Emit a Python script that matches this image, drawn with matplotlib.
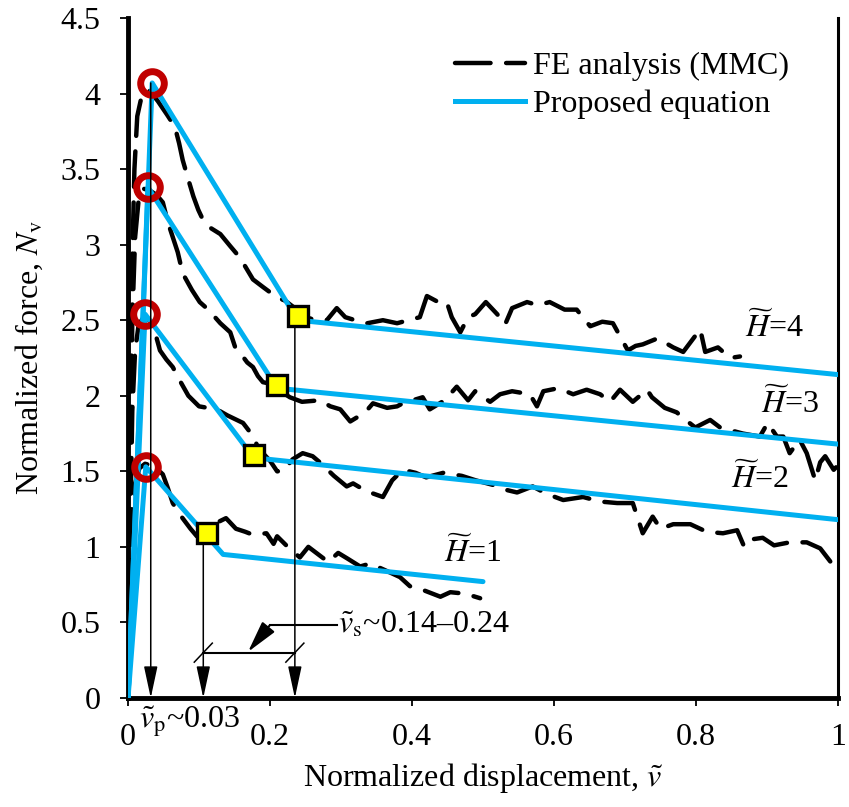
import matplotlib
matplotlib.use("Agg")
import matplotlib.pyplot as plt
from matplotlib.lines import Line2D

plt.rcParams['font.family'] = ['Liberation Serif', 'DejaVu Serif']
plt.rcParams['mathtext.fontset'] = 'stix'

# FE analysis (MMC) curves
fe1_x = [0, 0.003, 0.006, 0.01, 0.016, 0.024, 0.032, 0.04, 0.049, 0.056, 0.063, 0.072, 0.08, 0.088,
         0.097, 0.108, 0.125, 0.138, 0.152, 0.165, 0.176, 0.195, 0.205, 0.21, 0.225, 0.242, 0.254,
         0.268, 0.282, 0.296, 0.31, 0.327, 0.341, 0.36, 0.383, 0.397, 0.418, 0.44, 0.454, 0.475, 0.496]
fe1_y = [0, 0.7, 1.15, 1.42, 1.52, 1.55, 1.54, 1.52, 1.48, 1.39, 1.29, 1.22, 1.17, 1.12,
         1.07, 1.1, 1.16, 1.19, 1.12, 1.1, 1.08, 1.09, 1.02, 1.07, 1.0, 0.93, 1.0,
         0.95, 0.9, 0.96, 0.92, 0.87, 0.89, 0.85, 0.8, 0.74, 0.71, 0.67, 0.7, 0.69, 0.66]

fe2_x = [0, 0.003, 0.006, 0.01, 0.015, 0.022, 0.03, 0.038, 0.045, 0.054, 0.063, 0.073, 0.085, 0.1,
         0.112, 0.125, 0.14, 0.162, 0.175, 0.183, 0.19, 0.2, 0.21, 0.218, 0.232, 0.246, 0.26, 0.27,
         0.29, 0.308, 0.317, 0.335, 0.359, 0.372, 0.387, 0.405, 0.42, 0.444, 0.47, 0.49, 0.514,
         0.53, 0.548, 0.57, 0.59, 0.613, 0.641, 0.665, 0.689, 0.711, 0.725, 0.739, 0.75, 0.768,
         0.792, 0.815, 0.838, 0.858, 0.868, 0.879, 0.894, 0.91, 0.932, 0.956, 0.975, 0.993]
fe2_y = [0, 1.1, 1.9, 2.3, 2.47, 2.52, 2.5, 2.42, 2.3, 2.24, 2.19, 2.1, 2.0, 1.93,
         1.92, 1.91, 1.87, 1.82, 1.74, 1.66, 1.62, 1.57, 1.5, 1.5, 1.58, 1.62, 1.6, 1.56,
         1.47, 1.4, 1.42, 1.37, 1.33, 1.44, 1.51, 1.49, 1.46, 1.49, 1.47, 1.44, 1.41,
         1.38, 1.36, 1.4, 1.35, 1.31, 1.33, 1.3, 1.29, 1.29, 1.09, 1.2, 1.12, 1.15,
         1.15, 1.1, 1.09, 1.11, 1.0, 1.05, 1.06, 1.01, 1.03, 1.03, 0.99, 0.88]

fe3_x = [0, 0.003, 0.006, 0.01, 0.015, 0.022, 0.03, 0.04, 0.049, 0.056, 0.063, 0.07, 0.077, 0.09,
         0.101, 0.113, 0.13, 0.144, 0.151, 0.16, 0.168, 0.176, 0.183, 0.19, 0.2, 0.215, 0.228,
         0.245, 0.27, 0.285, 0.299, 0.313, 0.334, 0.345, 0.365, 0.379, 0.387, 0.415, 0.425, 0.446,
         0.463, 0.479, 0.489, 0.51, 0.524, 0.541, 0.566, 0.576, 0.585, 0.606, 0.627, 0.646, 0.665,
         0.679, 0.693, 0.711, 0.731, 0.738, 0.756, 0.773, 0.78, 0.799, 0.82, 0.834, 0.866, 0.89,
         0.901, 0.914, 0.923, 0.932, 0.946, 0.956, 0.968, 0.975, 0.982, 0.994, 1.0]
fe3_y = [0, 1.4, 2.5, 3.05, 3.3, 3.37, 3.36, 3.33, 3.28, 3.15, 3.05, 2.95, 2.81, 2.7,
         2.62, 2.57, 2.48, 2.42, 2.32, 2.27, 2.22, 2.19, 2.13, 2.09, 2.08, 2.03, 1.99,
         1.96, 1.97, 1.93, 1.91, 1.83, 1.89, 1.95, 1.92, 1.93, 1.95, 1.99, 1.91, 1.97,
         2.06, 1.97, 2.03, 1.96, 2.01, 2.03, 2.01, 1.93, 2.03, 2.05, 2.01, 2.04, 2.01,
         1.96, 2.04, 1.96, 2.04, 1.99, 1.92, 1.89, 1.86, 1.79, 1.84, 1.79, 1.75, 1.73,
         1.82, 1.73, 1.73, 1.62, 1.71, 1.62, 1.44, 1.56, 1.6, 1.51, 1.54]

fe4_x = [0, 0.003, 0.006, 0.009, 0.013, 0.02, 0.03, 0.042, 0.055, 0.066, 0.072, 0.077, 0.085, 0.092,
         0.099, 0.106, 0.113, 0.13, 0.144, 0.153, 0.162, 0.176, 0.19, 0.21, 0.221, 0.235, 0.25,
         0.265, 0.28, 0.294, 0.306, 0.32, 0.337, 0.359, 0.379, 0.395, 0.411, 0.421, 0.437, 0.449,
         0.456, 0.468, 0.479, 0.489, 0.504, 0.52, 0.531, 0.541, 0.562, 0.577, 0.594, 0.615, 0.632,
         0.651, 0.668, 0.683, 0.704, 0.715, 0.725, 0.746, 0.768, 0.782, 0.806, 0.813, 0.831, 0.848,
         0.862]
fe4_y = [0, 1.6, 2.9, 3.5, 3.85, 4.0, 4.02, 3.95, 3.86, 3.78, 3.67, 3.56, 3.43, 3.32,
         3.23, 3.16, 3.12, 3.07, 2.99, 2.94, 2.88, 2.77, 2.72, 2.65, 2.63, 2.58, 2.52,
         2.5, 2.5, 2.58, 2.52, 2.5, 2.48, 2.5, 2.48, 2.5, 2.52, 2.66, 2.62, 2.62,
         2.52, 2.42, 2.52, 2.54, 2.62, 2.54, 2.47, 2.58, 2.62, 2.6, 2.62, 2.57, 2.57,
         2.46, 2.49, 2.48, 2.3, 2.33, 2.34, 2.38, 2.32, 2.29, 2.44, 2.29, 2.32, 2.25,
         2.26]

# proposed equation: origin -> peak -> end of softening -> residual
eq1_x = [0, 0.025, 0.134, 0.50]
eq1_y = [0, 1.53, 0.95, 0.77]
eq2_x = [0, 0.024, 0.177, 1.0]
eq2_y = [0, 2.54, 1.59, 1.18]
eq3_x = [0, 0.028, 0.21, 1.0]
eq3_y = [0, 3.38, 2.05, 1.68]
eq4_x = [0, 0.034, 0.239, 1.0]
eq4_y = [0, 4.07, 2.50, 2.14]

peak_x = [0.025, 0.024, 0.028, 0.034]
peak_y = [1.53, 2.54, 3.38, 4.07]
soft_x = [0.111, 0.177, 0.21, 0.239]
soft_y = [1.09, 1.61, 2.07, 2.53]

h_names = ['1', '2', '3', '4']
h_lab_x = [0.485, 0.89, 0.932, 0.91]
h_lab_y = [0.90, 1.39, 1.887, 2.39]

xticks = [0, 0.2, 0.4, 0.6, 0.8, 1]
xtick_labels = ['0', '0.2', '0.4', '0.6', '0.8', '1']
yticks = [0, 0.5, 1, 1.5, 2, 2.5, 3, 3.5, 4, 4.5]
ytick_labels = ['0', '0.5', '1', '1.5', '2', '2.5', '3', '3.5', '4', '4.5']

vp = 0.032          # peak displacement arrow
vs_lo, vs_hi = 0.106, 0.235
dim_y = 0.3

blue = '#00B0F0'
fs = 23

fig = plt.figure(figsize=(8.49, 8.07), dpi=100)
ax = fig.add_axes([0.1508, 0.1351, 0.8362, 0.8426])

dash = (0, (8, 3.5))
for fx, fy in [(fe1_x, fe1_y), (fe2_x, fe2_y), (fe3_x, fe3_y), (fe4_x, fe4_y)]:
    ax.plot(fx, fy, color='black', lw=3.2, ls=dash, dash_capstyle='round', zorder=2)

for ex, ey in [(eq1_x, eq1_y), (eq2_x, eq2_y), (eq3_x, eq3_y), (eq4_x, eq4_y)]:
    ax.plot(ex, ey, color=blue, lw=3.6, solid_joinstyle='round', solid_capstyle='round', zorder=3)

ax.plot(peak_x, peak_y, ls='none', marker='o', ms=17, mfc='none', mec='#C00000', mew=5, zorder=5)
ax.plot(soft_x, soft_y, ls='none', marker='s', ms=15, mfc='#FFFF00', mec='black', mew=2.4, zorder=5)

# vertical arrows
arr = dict(arrowstyle='-|>,head_length=1.4,head_width=0.3', color='black', lw=1.1,
           shrinkA=0, shrinkB=0, mutation_scale=14)
ax.annotate('', xy=(vp, 0), xytext=(vp, peak_y[3]), arrowprops=arr, zorder=6)
ax.annotate('', xy=(vs_lo, 0), xytext=(vs_lo, soft_y[0]), arrowprops=arr, zorder=4)
ax.annotate('', xy=(vs_hi, 0), xytext=(vs_hi, soft_y[3]), arrowprops=arr, zorder=4)

# dimension line with slashes
ax.plot([vs_lo, vs_hi], [dim_y, dim_y], color='black', lw=1.5, zorder=4)
for xv in [vs_lo, vs_hi]:
    ax.plot([xv - 0.0127, xv + 0.0127], [dim_y - 0.063, dim_y + 0.063], color='black', lw=1.1, zorder=4)

# leader to the text
ax.plot([0.294, 0.2], [0.483, 0.483], color='black', lw=1.5, zorder=4)
ax.annotate('', xy=(0.169, 0.305), xytext=(0.2, 0.483),
            arrowprops=dict(arrowstyle='-|>,head_length=1.4,head_width=0.35', color='black', lw=1.5,
                            shrinkA=0, shrinkB=0, mutation_scale=14), zorder=4)
ax.text(0.296, 0.483, r'$\tilde{v}_\mathrm{s}$~0.14–0.24', fontsize=fs, ha='left', va='center')
ax.text(0.015, -0.2, r'$\tilde{v}_\mathrm{p}$~0.03', fontsize=fs, ha='left', va='baseline')

for name, tx, ty in zip(h_names, h_lab_x, h_lab_y):
    ax.text(tx, ty, r'$\widetilde{H}$=' + name, fontsize=fs, ha='center', va='baseline')

ax.set_xlim(0, 1)
ax.set_ylim(0, 4.5)
ax.set_xticks(xticks)
ax.set_xticklabels(xtick_labels)
ax.set_yticks(yticks)
ax.set_yticklabels(ytick_labels)
ax.tick_params(direction='out', length=6, width=1.3, labelsize=fs)
ax.tick_params(axis='y', pad=14)
ax.tick_params(axis='x', pad=12)

ax.spines['top'].set_visible(False)
ax.spines['right'].set_linewidth(2.2)
ax.spines['left'].set_linewidth(3.5)
ax.spines['bottom'].set_linewidth(3.5)

ax.set_xlabel(r'Normalized displacement, $\tilde{v}$', fontsize=fs)
ax.set_ylabel(r'Normalized force, $N_\mathrm{v}$', fontsize=fs)
ax.xaxis.set_label_coords(0.5, -0.093)
ax.yaxis.set_label_coords(-0.117, 0.5)

h_fe = Line2D([], [], color='black', lw=3.2, ls=dash, dash_capstyle='round')
h_eq = Line2D([], [], color=blue, lw=3.6)
ax.legend([h_fe, h_eq], ['FE analysis (MMC)', 'Proposed equation'], loc='upper left',
          bbox_to_anchor=(0.4606, 0.95), frameon=False, fontsize=fs, handlelength=2.2,
          handletextpad=0.25, labelspacing=0.25, borderpad=0, borderaxespad=0)

fig.savefig('out.png', dpi=100)
